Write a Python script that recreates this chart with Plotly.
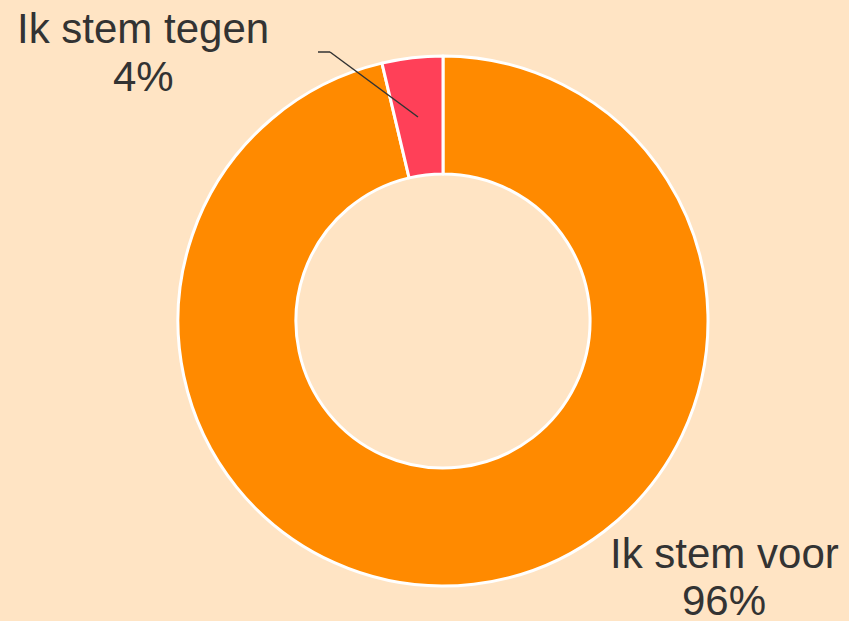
import plotly.graph_objects as go

labels = ["Ik stem voor", "Ik stem tegen"]
values = [96.3, 3.7]
colors = ["#FF8A00", "#FF4058"]

W, H = 849, 621
L, R, T, B = 178, 141, 56, 35
PW, PH = W - L - R, H - T - B

def px(x, y):
    return (x - L) / PW, (H - B - y) / PH

total = sum(values)
pcts = [f"{round(v / total * 100)}%" for v in values]

fig = go.Figure(go.Pie(
    labels=labels, values=values, hole=0.555, sort=False,
    direction="clockwise", rotation=0,
    marker=dict(colors=colors, line=dict(color="white", width=3)),
    textinfo="none", hoverinfo="label+percent", showlegend=False,
))

font = dict(family="Liberation Sans, Arial, sans-serif", size=42, color="#333333")
label_pos = [((724, 553), (724, 600)), ((143, 28), (143, 76))]
ann = []
for (p1, p2), lab, pc in zip(label_pos, labels, pcts):
    for (x, y), t in ((p1, lab), (p2, pc)):
        ax, ay = px(x, y)
        ann.append(dict(x=ax, y=ay, xref="paper", yref="paper", text=t,
                        showarrow=False, xanchor="center", yanchor="middle", font=font))

shapes = []
for (x0, y0), (x1, y1) in [((318, 52), (330, 52)), ((330, 52), (418, 117))]:
    a0, b0 = px(x0, y0)
    a1, b1 = px(x1, y1)
    shapes.append(dict(type="line", xref="paper", yref="paper", x0=a0, y0=b0, x1=a1, y1=b1,
                       line=dict(color="#333333", width=1.5)))

fig.update_layout(
    width=W, height=H, margin=dict(l=L, r=R, t=T, b=B),
    paper_bgcolor="#FFE4C4", plot_bgcolor="#FFE4C4",
    annotations=ann, shapes=shapes,
)
fig.write_html("out.html", config={"displayModeBar": False},
               post_script="document.body.style.margin='0';document.body.style.overflow='hidden';")
